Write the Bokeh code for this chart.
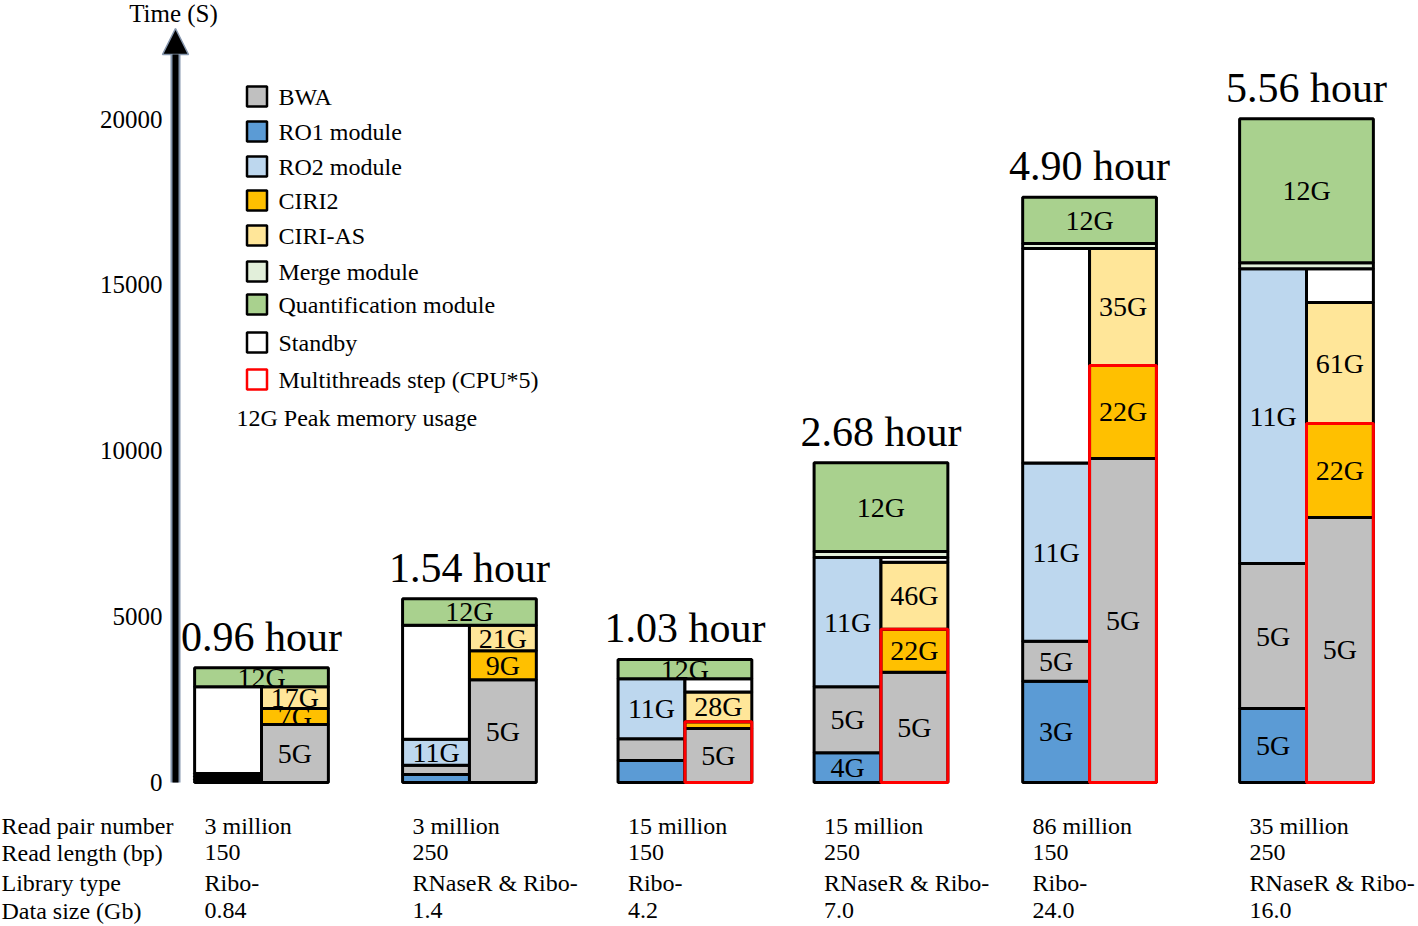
from bokeh.plotting import figure
from bokeh.models import ColumnDataSource, Arrow, NormalHead
from bokeh.core.properties import value
from bokeh.embed import file_html
from bokeh.resources import INLINE

# ------------------------------------------------------------------ data
hours = [0.96, 1.54, 1.03, 2.68, 4.90, 5.56]

# time (s) per module, left column (bottom -> top)
ro1 = [90, 240, 660, 900, 3050, 2230]
bwa_left = [90, 280, 660, 1990, 1210, 4370]
ro2 = [90, 780, 1810, 3890, 5370, 8890]
standby_left = [2620, 3440, 0, 0, 6470, 0]
# right column (bottom -> top)
bwa_right = [1750, 3100, 1630, 3320, 9770, 7990]
ciri2 = [480, 870, 200, 1300, 2800, 2830]
ciri_as = [660, 770, 900, 2020, 3530, 3650]
standby_right = [0, 0, 400, 140, 0, 1020]
# spanning steps
merge = [0, 0, 0, 180, 150, 180]
quant = [570, 800, 580, 2680, 1390, 4340]

multithread = [False, False, True, True, True, True]

# peak memory labels
mem_ro1 = ["", "", "", "4G", "3G", "5G"]
mem_bwa_left = ["", "", "", "5G", "5G", "5G"]
mem_ro2 = ["", "11G", "11G", "11G", "11G", "11G"]
mem_bwa_right = ["5G", "5G", "5G", "5G", "5G", "5G"]
mem_ciri2 = ["7G", "9G", "", "22G", "22G", "22G"]
mem_ciri_as = ["17G", "21G", "28G", "46G", "35G", "61G"]
mem_quant = ["12G", "12G", "12G", "12G", "12G", "12G"]

legend_labels = ["BWA", "RO1 module", "RO2 module", "CIRI2", "CIRI-AS",
                 "Merge module", "Quantification module", "Standby",
                 "Multithreads step (CPU*5)"]
y_ticks = [0, 5000, 10000, 15000, 20000]

row_names = ["Read pair number", "Read length (bp)", "Library type", "Data size (Gb)"]
read_pairs = ["3 million", "3 million", "15 million", "15 million", "86 million", "35 million"]
read_length = ["150", "250", "150", "250", "150", "250"]
library_type = ["Ribo-", "RNaseR & Ribo-", "Ribo-", "RNaseR & Ribo-", "Ribo-", "RNaseR & Ribo-"]
data_size = ["0.84", "1.4", "4.2", "7.0", "24.0", "16.0"]

# ------------------------------------------------------------------ layout / style
group_x = [0.0, 0.995, 2.026, 2.964, 3.962, 5.0]   # horizontal slot of each run

colors = {
    "BWA": "#C0C0C0",
    "RO1 module": "#5B9BD5",
    "RO2 module": "#BDD7EE",
    "CIRI2": "#FFC000",
    "CIRI-AS": "#FFE699",
    "Merge module": "#E2EFDA",
    "Quantification module": "#A9D18E",
    "Standby": "#FFFFFF",
}
FONT = value("Liberation Serif")

W, H = 1416, 924
XREF, XS = 261.0, 209.0       # screen x of slot 0 centre, px per slot unit
YREF, YS = 782.0, 0.033174     # screen y of t=0, px per second

def fx(px):
    return (px - XREF) / XS

def fy(py):
    return (YREF - py) / YS

p = figure(width=W, height=H, output_backend="svg", toolbar_location=None,
           x_range=(fx(0), fx(W)), y_range=(fy(H), fy(0)),
           x_axis_location=None, y_axis_location=None, min_border=0)
p.grid.visible = False
p.outline_line_color = None
p.background_fill_color = "white"
p.border_fill_color = "white"

COLW = 0.32
n = len(hours)
seg = dict(x=[], w=[], b=[], t=[], c=[])
lab = dict(x=[], y=[], text=[])
red = dict(x=[], b=[], t=[])
totals = []

left_mods = [("RO1 module", ro1, mem_ro1), ("BWA", bwa_left, mem_bwa_left),
             ("RO2 module", ro2, mem_ro2), ("Standby", standby_left, None)]
right_mods = [("BWA", bwa_right, mem_bwa_right), ("CIRI2", ciri2, mem_ciri2),
              ("CIRI-AS", ciri_as, mem_ciri_as), ("Standby", standby_right, None)]
top_mods = [("Merge module", merge, None), ("Quantification module", quant, mem_quant)]

def stack(i, mods, xc, width, base):
    cur = base
    for name, vals, mem in mods:
        v = vals[i]
        if v <= 0:
            continue
        seg["x"].append(xc); seg["w"].append(width)
        seg["b"].append(cur); seg["t"].append(cur + v)
        seg["c"].append(colors[name])
        if mem is not None and mem[i]:
            lab["x"].append(xc); lab["y"].append(cur + v / 2); lab["text"].append(mem[i])
        cur += v
    return cur

for i in range(n):
    gx = group_x[i]
    lt = stack(i, left_mods, gx - COLW / 2, COLW, 0)
    rt = stack(i, right_mods, gx + COLW / 2, COLW, 0)
    tt = stack(i, top_mods, gx, 2 * COLW, max(lt, rt))
    totals.append(tt)
    if multithread[i]:
        red["x"].append(gx + COLW / 2); red["b"].append(0)
        red["t"].append(bwa_right[i] + ciri2[i])

p.vbar(x="x", width="w", bottom="b", top="t", fill_color="c", line_color="black",
       line_width=3, source=ColumnDataSource(seg))
p.vbar(x="x", width=COLW, bottom="b", top="t", fill_color=None, line_color="#FF0000",
       line_width=3, source=ColumnDataSource(red))
p.text(x="x", y="y", text="text", source=ColumnDataSource(lab), text_font=FONT,
       text_font_size="28px", text_align="center", text_baseline="middle", text_color="black")

# hour labels (centred ~31 px above the top of each stack)
gap = 31 / YS
p.text(x=group_x, y=[t + gap for t in totals], text=[f"{h:.2f} hour" for h in hours],
       text_font=FONT, text_font_size="42px", text_align="center",
       text_baseline="middle", text_color="black")

# y axis arrow + tick labels
ax = fx(175)
p.segment(x0=[ax], y0=[0], x1=[ax], y1=[fy(40)], line_color="#8596AD", line_width=10)
p.add_layout(Arrow(x_start=ax, y_start=0, x_end=ax, y_end=fy(28), line_width=6,
                   line_color="black",
                   end=NormalHead(size=26, fill_color="black", line_color="#8596AD",
                                  line_width=1.5)))
p.text(x=[fx(162)] * len(y_ticks), y=y_ticks, text=[str(t) for t in y_ticks],
       text_font=FONT, text_font_size="25px", text_align="right", text_baseline="middle")
p.text(x=[fx(173)], y=[fy(13)], text=["Time (S)"], text_font=FONT, text_font_size="25px",
       text_align="center", text_baseline="middle")

# legend
leg_y = [96, 131, 166, 200, 235, 271, 304, 342, 379]
leg_fill = [colors.get(l, None) for l in legend_labels]
leg_line = ["black"] * 8 + ["#FF0000"]
p.scatter(x=[fx(256.5)] * len(legend_labels), y=[fy(v) for v in leg_y], marker="square",
          size=20, fill_color=leg_fill[:8] + [None], line_color=leg_line, line_width=2.5)
p.text(x=[fx(278)] * len(legend_labels), y=[fy(v) for v in leg_y], text=legend_labels,
       text_font=FONT, text_font_size="24px", text_align="left", text_baseline="middle")
p.text(x=[fx(236)], y=[fy(417)], text=["12G Peak memory usage"], text_font=FONT,
       text_font_size="24px", text_align="left", text_baseline="middle")

# table under the bars
row_y = [825, 852, 882, 910]
p.text(x=[fx(1)] * 4, y=[fy(v) for v in row_y], text=row_names, text_font=FONT,
       text_font_size="24px", text_align="left", text_baseline="middle")
for vals, ry in zip([read_pairs, read_length, library_type, data_size], row_y):
    p.text(x=[g - 57 / XS for g in group_x], y=[fy(ry)] * n, text=vals, text_font=FONT,
           text_font_size="24px", text_align="left", text_baseline="middle")

open("out.html", "w").write(file_html(p, INLINE))
